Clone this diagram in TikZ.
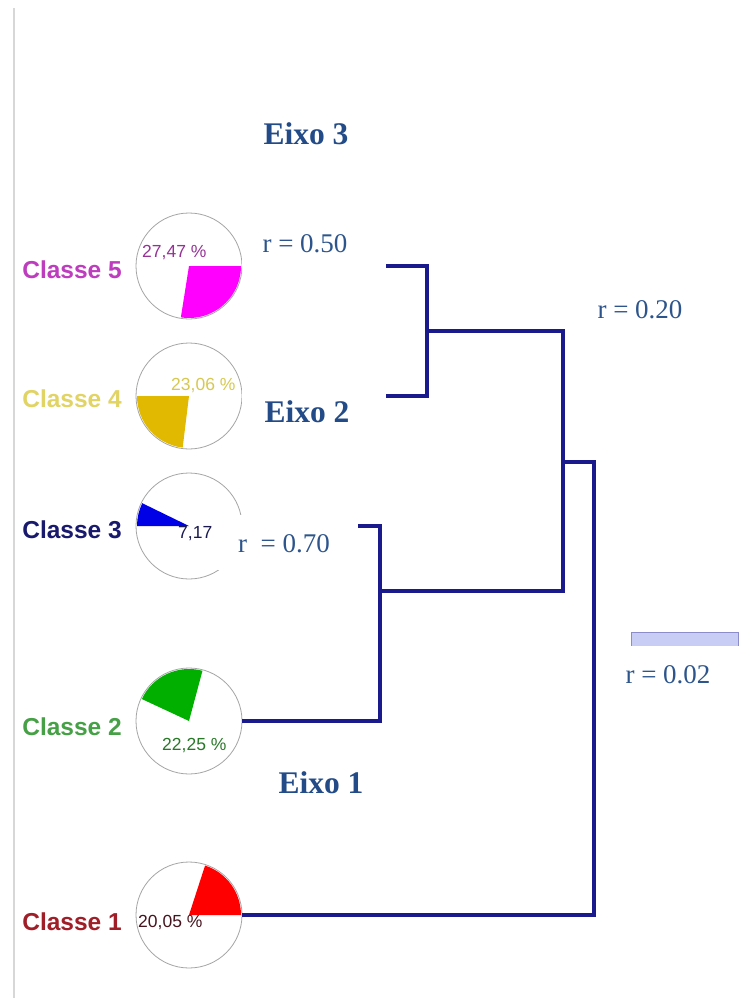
\documentclass[tikz,border=0pt]{standalone}
\usepackage{fontspec}
\setmainfont{Liberation Serif}
\newfontfamily\arialfont{Liberation Sans}
\definecolor{dendc}{RGB}{26,26,140}
\definecolor{eixoc}{RGB}{35,75,135}
\definecolor{rc}{RGB}{45,85,140}
\definecolor{c5lab}{RGB}{190,60,190}
\definecolor{c5w}{RGB}{255,0,255}
\definecolor{c5p}{RGB}{150,50,150}
\definecolor{c4lab}{RGB}{225,212,100}
\definecolor{c4w}{RGB}{225,185,0}
\definecolor{c4p}{RGB}{215,200,80}
\definecolor{c3lab}{RGB}{25,25,110}
\definecolor{c3w}{RGB}{0,0,230}
\definecolor{c3p}{RGB}{25,25,80}
\definecolor{c2lab}{RGB}{70,160,70}
\definecolor{c2w}{RGB}{0,175,0}
\definecolor{c2p}{RGB}{40,120,40}
\definecolor{c1lab}{RGB}{160,30,40}
\definecolor{c1w}{RGB}{255,0,0}
\definecolor{c1p}{RGB}{70,20,30}
\definecolor{pieline}{RGB}{165,165,165}
\definecolor{rulec}{RGB}{215,215,215}
\definecolor{lavline}{RGB}{140,140,200}
\definecolor{lavfill}{RGB}{200,205,245}
\tikzset{
  pie/.style={circle, draw=pieline, line width=0.8pt, minimum size=106pt, inner sep=0pt},
  classlab/.style={anchor=base east, inner sep=0pt, font=\arialfont\bfseries\fontsize{24.5}{24.5}\selectfont},
  pct/.style={anchor=base west, inner sep=0pt, font=\arialfont\fontsize{17.5}{17.5}\selectfont},
  dend/.style={draw=dendc, line width=3.3pt, line join=miter},
  eixo/.style={anchor=base, inner sep=0pt, text=eixoc, font=\bfseries\fontsize{31.5}{31.5}\selectfont},
  rlab/.style={anchor=base, inner sep=0pt, text=rc, font=\fontsize{27}{27}\selectfont},
}
\begin{document}
\begin{tikzpicture}[x=1pt,y=-1pt]
\useasboundingbox (0,0) rectangle (746,998);
\fill[white] (0,0) rectangle (746,998);
% left gray rule
\draw[line width=2pt, rulec] (14,8) -- (14,998);

% pies
\node[pie] (c5) at (189,266) {};
\node[pie] (c4) at (189,396) {};
\node[pie] (c3) at (189,526) {};
\node[pie] (c2) at (189,721) {};
\node[pie] (c1) at (189,915) {};

\fill[c5w] (c5.center) -- +(0:52) arc[start angle=0, end angle=99, radius=52] -- cycle;
\fill[c4w] (c4.center) -- +(-180:52) arc[start angle=-180, end angle=-263, radius=52] -- cycle;
\fill[c3w] (c3.center) -- +(-154:52) arc[start angle=-154, end angle=-180, radius=52] -- cycle;
\fill[c2w] (c2.center) -- +(-75:52) arc[start angle=-75, end angle=-155, radius=52] -- cycle;
\fill[c1w] (c1.center) -- +(0:52) arc[start angle=0, end angle=-72, radius=52] -- cycle;

% class labels
\node[classlab, text=c5lab] (l5) at (122,278) {Classe 5};
\node[classlab, text=c4lab] (l4) at (122,407) {Classe 4};
\node[classlab, text=c3lab] (l3) at (122,538) {Classe 3};
\node[classlab, text=c2lab] (l2) at (122,735) {Classe 2};
\node[classlab, text=c1lab] (l1) at (122,930) {Classe 1};

% dendrogram
\coordinate (j54) at (427,331);
\coordinate (j32) at (380,591);
\coordinate (j5432) at (563,462);
\coordinate (rt) at (594,915);
\draw[dend] (c5.east) -| (j54) |- (c4.east);
\draw[dend] (c3.east) -| (j32) |- (c2.east);
\draw[dend] (j54) -| (j5432) |- (j32);
\draw[dend] (j5432) -| (rt) -- (c1.east);

% small lavender box
\draw[draw=lavline, fill=lavfill, line width=1pt] (631,632) rectangle (738,652);

% white covers behind labels
\fill[white] (242.4,222) rectangle (386,282);
\fill[white] (242.4,372) rectangle (386,432);
\fill[white] (218,515) rectangle (358,570);
\fill[white] (600,646) rectangle (746,700);

% percentages
\node[pct, text=c5p] (p5) at (142,257) {27,47 \%};
\node[pct, text=c4p] (p4) at (171,390) {23,06 \%};
\node[pct, text=c3p] (p3) at (178,538) {7,17};
\node[pct, text=c2p] (p2) at (162,750) {22,25 \%};
\node[pct, text=c1p] (p1) at (138,927) {20,05 \%};

% axis labels
\node[eixo] (e3) at (306,144) {Eixo 3};
\node[eixo] (e2) at (307,422) {Eixo 2};
\node[eixo] (e1) at (321,793) {Eixo 1};

% r labels
\node[rlab] (r50) at (305,252) {r = 0.50};
\node[rlab] (r20) at (640,318) {r = 0.20};
\node[rlab] (r70) at (284,552) {r \ = 0.70};
\node[rlab] (r02) at (668,683) {r = 0.02};
\end{tikzpicture}
\end{document}
